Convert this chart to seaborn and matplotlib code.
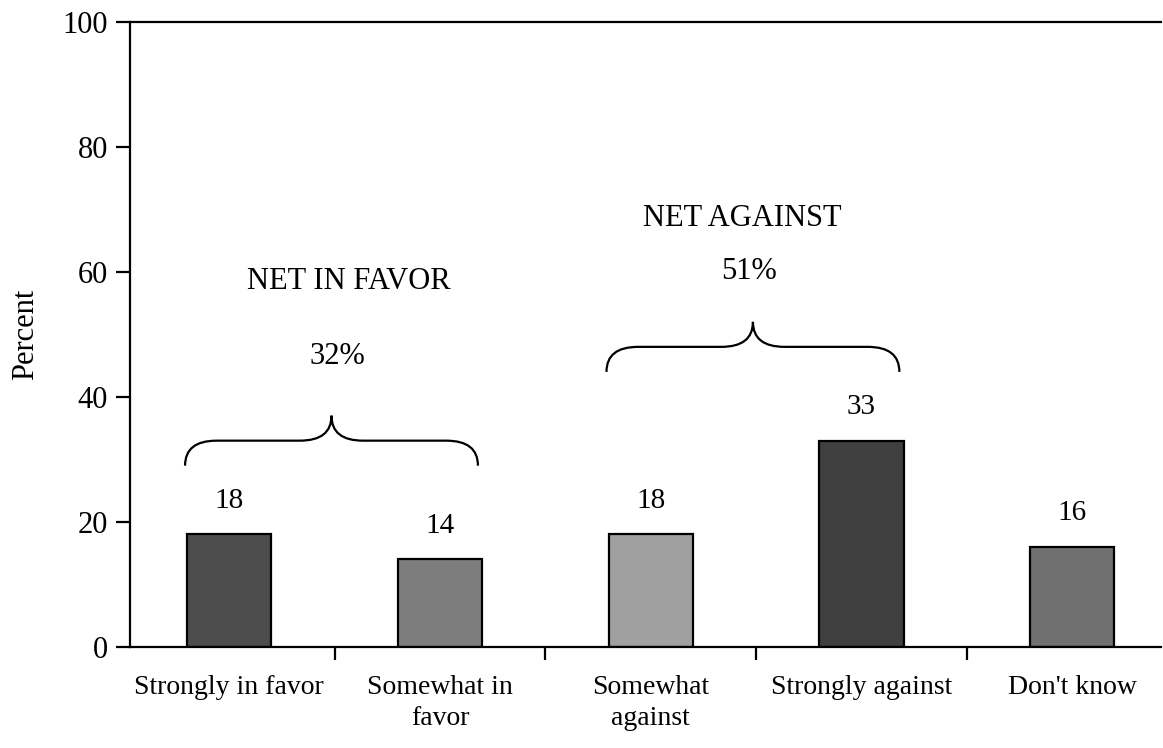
import numpy as np
import matplotlib
matplotlib.use("Agg")
import matplotlib.pyplot as plt
from matplotlib.path import Path
from matplotlib.patches import PathPatch
import seaborn as sns
import pandas as pd

# data
categories = ["Strongly in favor", "Somewhat in\nfavor", "Somewhat\nagainst",
              "Strongly against", "Don't know"]
percents = [18, 14, 18, 33, 16]
bar_greys = ["#4d4d4d", "#7d7d7d", "#a0a0a0", "#3f3f3f", "#707070"]

# groups that get a brace: (first bar, last bar, headline, net value)
groups = [(0, 1, "NET IN FAVOR", "32%"), (2, 3, "NET AGAINST", "51%")]
head_offset = [40.5, 35.5]
net_offset = [28.5, 27.0]
head_shift = [0.08, -0.05]
net_shift = [0.03, -0.02]

sns.set_theme(style="white")
plt.rcParams["font.family"] = ["Liberation Serif", "DejaVu Serif"]
plt.rcParams["text.color"] = "black"
plt.rcParams["axes.labelcolor"] = "black"
plt.rcParams["xtick.color"] = "black"
plt.rcParams["ytick.color"] = "black"


def draw_brace(ax, x0, x1, y, h, q=0.15):
    """Curly brace along y, ends pointing down, tip pointing up."""
    xm = (x0 + x1) / 2
    verts = [(x0, y - h), (x0, y), (x0 + q, y),
             (xm - q, y), (xm, y), (xm, y + h),
             (xm, y), (xm + q, y),
             (x1 - q, y), (x1, y), (x1, y - h)]
    codes = [Path.MOVETO, Path.CURVE3, Path.CURVE3,
             Path.LINETO, Path.CURVE3, Path.CURVE3,
             Path.CURVE3, Path.CURVE3,
             Path.LINETO, Path.CURVE3, Path.CURVE3]
    ax.add_patch(PathPatch(Path(verts, codes), fill=False, lw=1.6,
                           edgecolor="black", clip_on=False))


df = pd.DataFrame({"answer": categories, "pct": percents})

fig = plt.figure(figsize=(11.63, 7.48), dpi=100)
ax = fig.add_axes([0.112, 0.135, 0.886, 0.836])

sns.barplot(data=df, x="answer", y="pct", hue="answer", palette=bar_greys,
            legend=False, width=0.4, edgecolor="black", linewidth=1.6,
            saturation=1, ax=ax)

for i, v in enumerate(percents):
    ax.text(i, v + 3.3, str(v), ha="center", va="bottom", fontsize=21)

for (a, b, head, net), ho, no, hs, ns in zip(groups, head_offset, net_offset,
                                             head_shift, net_shift):
    top = max(percents[a:b + 1])
    x0, x1 = a - 0.21, b + 0.18
    draw_brace(ax, x0, x1, top + 15, 4)
    xm = (x0 + x1) / 2
    ax.text(xm + hs, top + ho, head, ha="center", va="center", fontsize=22)
    ax.text(xm + ns, top + no, net, ha="center", va="center", fontsize=22)

ax.set_ylim(0, 100)
ax.set_xlim(-0.47, 4.42)
ax.set_yticks(range(0, 101, 20))
ax.set_xlabel("")
ax.set_ylabel("Percent", fontsize=22, labelpad=16)

ax.spines["right"].set_visible(False)
for s in ["left", "bottom", "top"]:
    ax.spines[s].set_color("black")
    ax.spines[s].set_linewidth(1.6)

ax.tick_params(axis="y", direction="out", length=10, width=1.6, left=True,
               labelsize=22, pad=6)
ax.tick_params(axis="x", which="major", length=0, labelsize=20, pad=20)
for lab in ax.get_xticklabels():
    lab.set_linespacing(1.35)
ax.set_xticks([0.5, 1.5, 2.5, 3.5], minor=True)
ax.tick_params(axis="x", which="minor", direction="out", length=9, width=1.6,
               bottom=True)

fig.savefig("out.png", dpi=100)
